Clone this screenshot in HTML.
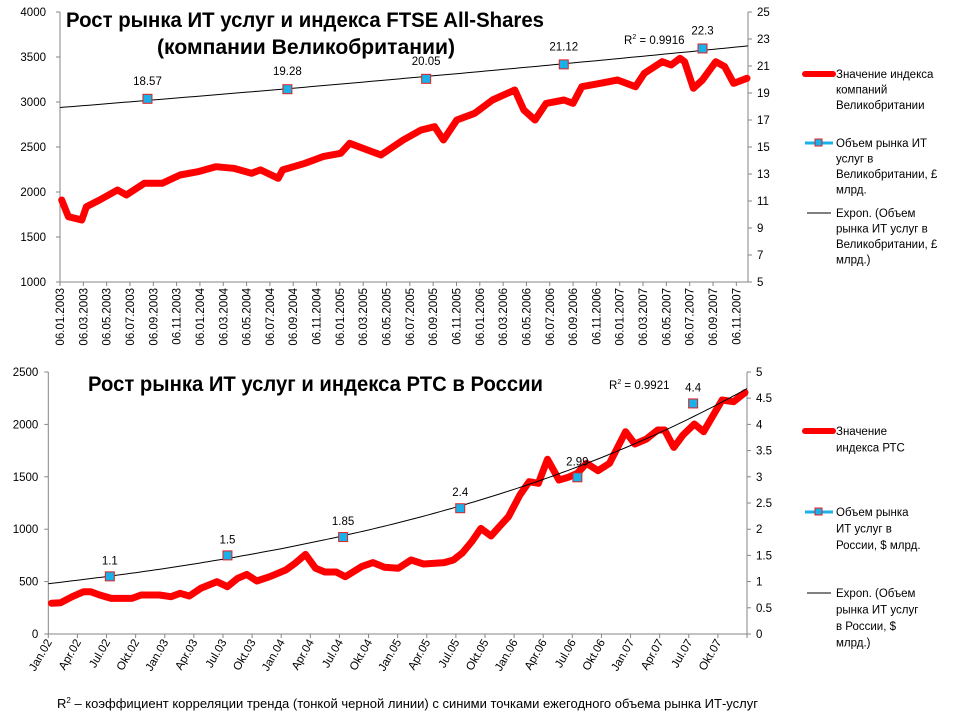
<!DOCTYPE html>
<html><head><meta charset="utf-8">
<style>
body{margin:0;background:#fff;}
svg{display:block;font-family:"Liberation Sans","DejaVu Sans",sans-serif;}
.t{font-size:11.5px;fill:#000;}
.lg{font-size:11.5px;fill:#000;}
.ttl{font-family:"Liberation Sans Narrow","Liberation Sans",sans-serif;font-weight:bold;font-size:21px;fill:#000;}
</style></head>
<body>
<svg id="svg" width="960" height="720" viewBox="0 0 960 720" xmlns="http://www.w3.org/2000/svg">
<rect width="960" height="720" fill="#fff"/>
<g id="top"></g>
<g id="bot"></g>
<text class="ttl" x="66" y="27" textLength="478" lengthAdjust="spacingAndGlyphs">Рост рынка ИТ услуг и индекса FTSE All-Shares</text>
<text class="ttl" x="157" y="54" textLength="298" lengthAdjust="spacingAndGlyphs">(компании Великобритании)</text>
<text class="ttl" x="88" y="391" textLength="455" lengthAdjust="spacingAndGlyphs">Рост рынка ИТ услуг и индекса РТС в России</text>
<text x="57" y="708" style="font-size:13px">R<tspan dy="-5" style="font-size:8px">2</tspan><tspan dy="5"> – коэффициент корреляции тренда (тонкой черной линии) с синими точками ежегодного объема рынка ИТ-услуг</tspan></text>
</svg>
<script>
// ---- UK chart data ----
const ukMonths=[0.15,0.72,1.87,2.26,3.4,4.93,5.69,7.23,8.76,10.29,11.83,13.35,14.89,16.42,17.19,18.71,19.1,21.01,22.55,24.07,24.84,26.37,27.52,29.43,30.97,32.12,32.88,34.03,35.56,37.09,39,39.77,40.73,41.69,43.22,43.99,44.75,46.28,47.81,49.35,50.11,51.64,52.41,53.17,53.56,54.32,55.09,56.24,56.99,57.77,58.91];
const ukIndex=[1911,1726,1689,1837,1911,2022,1967,2097,2097,2189,2226,2281,2263,2208,2245,2152,2245,2319,2393,2430,2541,2467,2411,2578,2689,2726,2578,2800,2874,3022,3133,2911,2800,2985,3022,2985,3170,3207,3244,3170,3319,3448,3411,3485,3448,3152,3244,3448,3393,3207,3263];
const ukMarketMonths=[7.5,19.5,31.4,43.2,55.1];
const ukMarket=[18.57,19.28,20.05,21.12,22.3];
const ukLeftTicks=[1000,1500,2000,2500,3000,3500,4000];
const ukRightTicks=[5,7,9,11,13,15,17,19,21,23,25];
const ukDateLabels=["06.01.2003","06.03.2003","06.05.2003","06.07.2003","06.09.2003","06.11.2003","06.01.2004","06.03.2004","06.05.2004","06.07.2004","06.09.2004","06.11.2004","06.01.2005","06.03.2005","06.05.2005","06.07.2005","06.09.2005","06.11.2005","06.01.2006","06.03.2006","06.05.2006","06.07.2006","06.09.2006","06.11.2006","06.01.2007","06.03.2007","06.05.2007","06.07.2007","06.09.2007","06.11.2007"];
// ---- Russia chart data ----
const ruMonths=[0.33,1.28,2.46,3.64,4.35,5.3,6.48,8.61,9.56,11.45,12.64,13.58,14.53,15.71,17.37,18.46,19.5,20.44,21.49,22.81,24.47,25.41,26.5,27.54,28.49,29.67,30.62,32.28,33.46,34.64,36.06,37.39,38.67,40.8,41.74,42.69,43.63,44.58,45.62,46.47,47.42,48.6,49.55,50.5,51.44,52.63,53.57,54.52,55.47,56.65,57.83,59.49,60.44,61.62,62.8,63.51,64.46,65.4,66.58,67.53,69.43,70.61,71.79];
const ruIndex=[293,299,356,404,404,372,340,340,372,372,356,388,363,436,499,451,531,569,506,547,611,674,760,627,592,592,547,643,681,636,627,706,668,681,706,776,881,1008,935,1024,1120,1326,1453,1438,1667,1469,1495,1533,1629,1558,1629,1930,1813,1860,1947,1947,1781,1899,2004,1930,2233,2217,2303];
const ruMarketMonths=[6.34,18.46,30.38,42.45,54.52,66.45];
const ruMarket=[1.1,1.5,1.85,2.4,2.99,4.4];
const ruLeftTicks=[0,500,1000,1500,2000,2500];
const ruRightTicks=[0,0.5,1,1.5,2,2.5,3,3.5,4,4.5,5];
const ruDateLabels=["Jan.02","Apr.02","Jul.02","Okt.02","Jan.03","Apr.03","Jul.03","Okt.03","Jan.04","Apr.04","Jul.04","Okt.04","Jan.05","Apr.05","Jul.05","Okt.05","Jan.06","Apr.06","Jul.06","Okt.06","Jan.07","Apr.07","Jul.07","Okt.07"];

const NS="http://www.w3.org/2000/svg";
function mk(parent,tag,attrs,text){const e=document.createElementNS(NS,tag);for(const k in attrs)e.setAttribute(k,attrs[k]);if(text!==undefined)e.textContent=text;parent.appendChild(e);return e;}

function expFit(xs,ys){let n=xs.length,sx=0,sy=0,sxx=0,sxy=0;for(let i=0;i<n;i++){const l=Math.log(ys[i]);sx+=xs[i];sy+=l;sxx+=xs[i]*xs[i];sxy+=xs[i]*l;}const b=(n*sxy-sx*sy)/(n*sxx-sx*sx);const a=(sy-b*sx)/n;return x=>Math.exp(a+b*x);}

function draw(g,c){
  const X=m=>c.x0+(m-c.mMin)/(c.mMax-c.mMin)*(c.x1-c.x0);
  const YL=v=>c.y1-(v-c.lMin)/(c.lMax-c.lMin)*(c.y1-c.y0);
  const YR=v=>c.y1-(v-c.rMin)/(c.rMax-c.rMin)*(c.y1-c.y0);
  const ax={stroke:"#868686","stroke-width":1};
  let e;
  e=mk(g,"line",Object.assign({x1:c.x0,y1:c.y0,x2:c.x0,y2:c.y1},ax));
  
  
  e=mk(g,"line",Object.assign({x1:c.x1,y1:c.y0,x2:c.x1,y2:c.y1},ax));
  
  
  e=mk(g,"line",Object.assign({x1:c.x0,y1:c.y1,x2:c.x1,y2:c.y1},ax));
  
  
  c.lTicks.forEach(v=>{const y=YL(v);
    mk(g,"line",Object.assign({x1:c.x0-4,y1:y,x2:c.x0,y2:y},ax));
    e=mk(g,"text",{class:"t",x:c.x0-6-c.lPad,y:y+4,"text-anchor":"end"},String(v));
    
    });
  c.rTicks.forEach(v=>{const y=YR(v);
    mk(g,"line",Object.assign({x1:c.x1,y1:y,x2:c.x1+4,y2:y},ax));
    e=mk(g,"text",{class:"t",x:c.x1+9,y:y+4},String(v));
    
    });
  c.labels.forEach((s,i)=>{const m=c.mMin+i*c.labelStep;const x=X(m);
    mk(g,"line",Object.assign({x1:x,y1:c.y1,x2:x,y2:c.y1+4},ax));
    const lx=x+c.labelDx,ly=c.y1+c.labelDy;
    e=mk(g,"text",{class:"t",x:lx,y:ly,"text-anchor":"end",transform:"rotate("+c.rot+" "+lx+" "+ly+")"},s);
    
    });
  if(c.lastTick){const x=c.x1;mk(g,"line",Object.assign({x1:x,y1:c.y1,x2:x,y2:c.y1+4},ax));}
  const pts=c.months.map((m,i)=>X(m).toFixed(1)+","+YL(c.index[i]).toFixed(1)).join(" ");
  e=mk(g,"polyline",{points:pts,fill:"none",stroke:"#ff0000","stroke-width":7,"stroke-linejoin":"round","stroke-linecap":"round"});
  
  
  const f=expFit(c.mMonths,c.market);let tp=[];
  for(let m=c.mMin;m<=c.trendEnd+0.001;m+=0.5)tp.push(X(m).toFixed(1)+","+YR(f(m)).toFixed(1));
  e=mk(g,"polyline",{points:tp.join(" "),fill:"none",stroke:"#000","stroke-width":1});
  
  
  c.mMonths.forEach((m,i)=>{const x=X(m),y=YR(c.market[i]);
    e=mk(g,"rect",{x:x-4.5,y:y-4.5,width:9,height:9,fill:"#1ab0e8",stroke:"#e02020","stroke-width":1});
    
    
    e=mk(g,"text",{class:"t",x:x,y:y-c.lblOff,"text-anchor":"middle"},String(c.market[i]));
    
    });
  e=mk(g,"text",{class:"t",x:c.r2x,y:c.r2y},"");
  e.innerHTML='R<tspan dy="-5" style="font-size:7px">2</tspan><tspan dy="5"> = '+c.r2+'</tspan>';
  
  
  const L=c.legend;
  e=mk(g,"line",{x1:805,y1:L[0].y-4,x2:833,y2:L[0].y-4,stroke:"#ff0000","stroke-width":6,"stroke-linecap":"round"});
  
  
  e=mk(g,"line",{x1:805,y1:L[1].y-4,x2:833,y2:L[1].y-4,stroke:"#1ab0e8","stroke-width":3});
  
  
  e=mk(g,"rect",{x:815,y:L[1].y-8,width:7,height:7,fill:"#1ab0e8",stroke:"#e02020","stroke-width":1});
  e=mk(g,"line",{x1:807,y1:L[2].y-4,x2:831,y2:L[2].y-4,stroke:"#000","stroke-width":1});
  
  
  L.forEach((it,k)=>{it.lines.forEach((s,j)=>{
    e=mk(g,"text",{class:"lg",x:836,y:it.y+j*c.lh},s);
    
    });});
}

draw(document.getElementById('top'),{x0:60,x1:748,y0:12,y1:282,mMin:0,mMax:59,
  lMin:1000,lMax:4000,rMin:5,rMax:25,lTicks:ukLeftTicks,rTicks:ukRightTicks,lPad:8,
  labels:ukDateLabels,labelStep:2,labelDx:4,labelDy:6,rot:-90,lastTick:false,
  months:ukMonths,index:ukIndex,mMonths:ukMarketMonths,market:ukMarket,trendEnd:59,lblOff:14,
  r2:"0.9916",r2x:624,r2y:44,lh:15.5,
  legend:[{y:78,lines:["Значение  индекса","компаний","Великобритании"]},
          {y:147,lines:["Объем  рынка ИТ","услуг в","Великобритании,  £","млрд."]},
          {y:217,lines:["Expon. (Объем","рынка ИТ услуг в","Великобритании,  £","млрд.)"]}]});

draw(document.getElementById('bot'),{x0:48.3,x1:747,y0:372,y1:634,mMin:0,mMax:72,
  lMin:0,lMax:2500,rMin:0,rMax:5,lTicks:ruLeftTicks,rTicks:ruRightTicks,lPad:4,
  labels:ruDateLabels,labelStep:3,labelDx:4,labelDy:8,rot:-60,lastTick:true,
  months:ruMonths,index:ruIndex,mMonths:ruMarketMonths,market:ruMarket,trendEnd:72,lblOff:12,
  r2:"0.9921",r2x:609,r2y:389,lh:16.5,
  legend:[{y:435,lines:["Значение","индекса  РТС"]},
          {y:516,lines:["Объем рынка","ИТ услуг в","России, $ млрд."]},
          {y:597,lines:["Expon. (Объем","рынка ИТ услуг","в России, $","млрд.)"]}]});
</script>
</body></html>
